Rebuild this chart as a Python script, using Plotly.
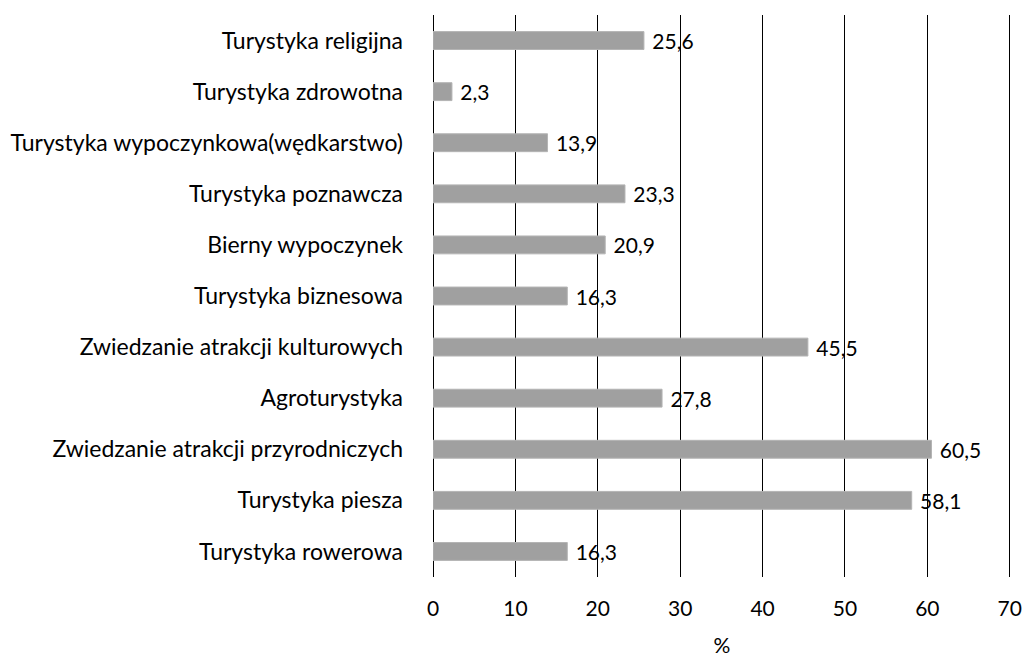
import plotly.graph_objects as go

categories = [
    "Turystyka religijna",
    "Turystyka zdrowotna",
    "Turystyka wypoczynkowa(wędkarstwo)",
    "Turystyka poznawcza",
    "Bierny wypoczynek",
    "Turystyka biznesowa",
    "Zwiedzanie atrakcji kulturowych",
    "Agroturystyka",
    "Zwiedzanie atrakcji przyrodniczych",
    "Turystyka piesza",
    "Turystyka rowerowa",
]
values = [25.6, 2.3, 13.9, 23.3, 20.9, 16.3, 45.5, 27.8, 60.5, 58.1, 16.3]
x_ticks = [0, 10, 20, 30, 40, 50, 60, 70]

labels = [" " + f"{v:.1f}".replace(".", ",") for v in values]

FONT = "Lato"

fig = go.Figure(
    go.Bar(
        y=categories,
        x=values,
        orientation="h",
        marker=dict(color="#A0A0A0", line=dict(color="#B4B4B4", width=1)),
        text=labels,
        textposition="outside",
        constraintext="none",
        textfont=dict(family=FONT, size=21, color="#000000"),
        cliponaxis=False,
        width=0.35,
        hoverinfo="skip",
    )
)

fig.update_layout(
    width=1024,
    height=657,
    margin=dict(l=433, r=13, t=15, b=80, autoexpand=False),
    plot_bgcolor="white",
    paper_bgcolor="white",
    showlegend=False,
    font=dict(family=FONT, size=21, color="#000000"),
    xaxis=dict(
        range=[0, 70.15],
        tickvals=x_ticks,
        ticktext=[str(t) for t in x_ticks],
        showgrid=True,
        gridcolor="#000000",
        gridwidth=1,
        zeroline=True,
        zerolinecolor="#000000",
        zerolinewidth=1,
        showline=False,
        ticks="",
        automargin=True,
        ticklabelstandoff=17,
        tickfont=dict(family=FONT, size=21),
        title=dict(text="%", font=dict(family=FONT, size=21), standoff=20),
    ),
    yaxis=dict(
        autorange="reversed",
        showgrid=False,
        showline=False,
        ticks="",
        automargin=False,
        ticklabelstandoff=29,
        tickfont=dict(family=FONT, size=23),
    ),
)

fig.write_html(
    "out.html",
    config={"displayModeBar": False},
    post_script="document.body.style.margin='0';document.body.style.overflow='hidden';",
)
